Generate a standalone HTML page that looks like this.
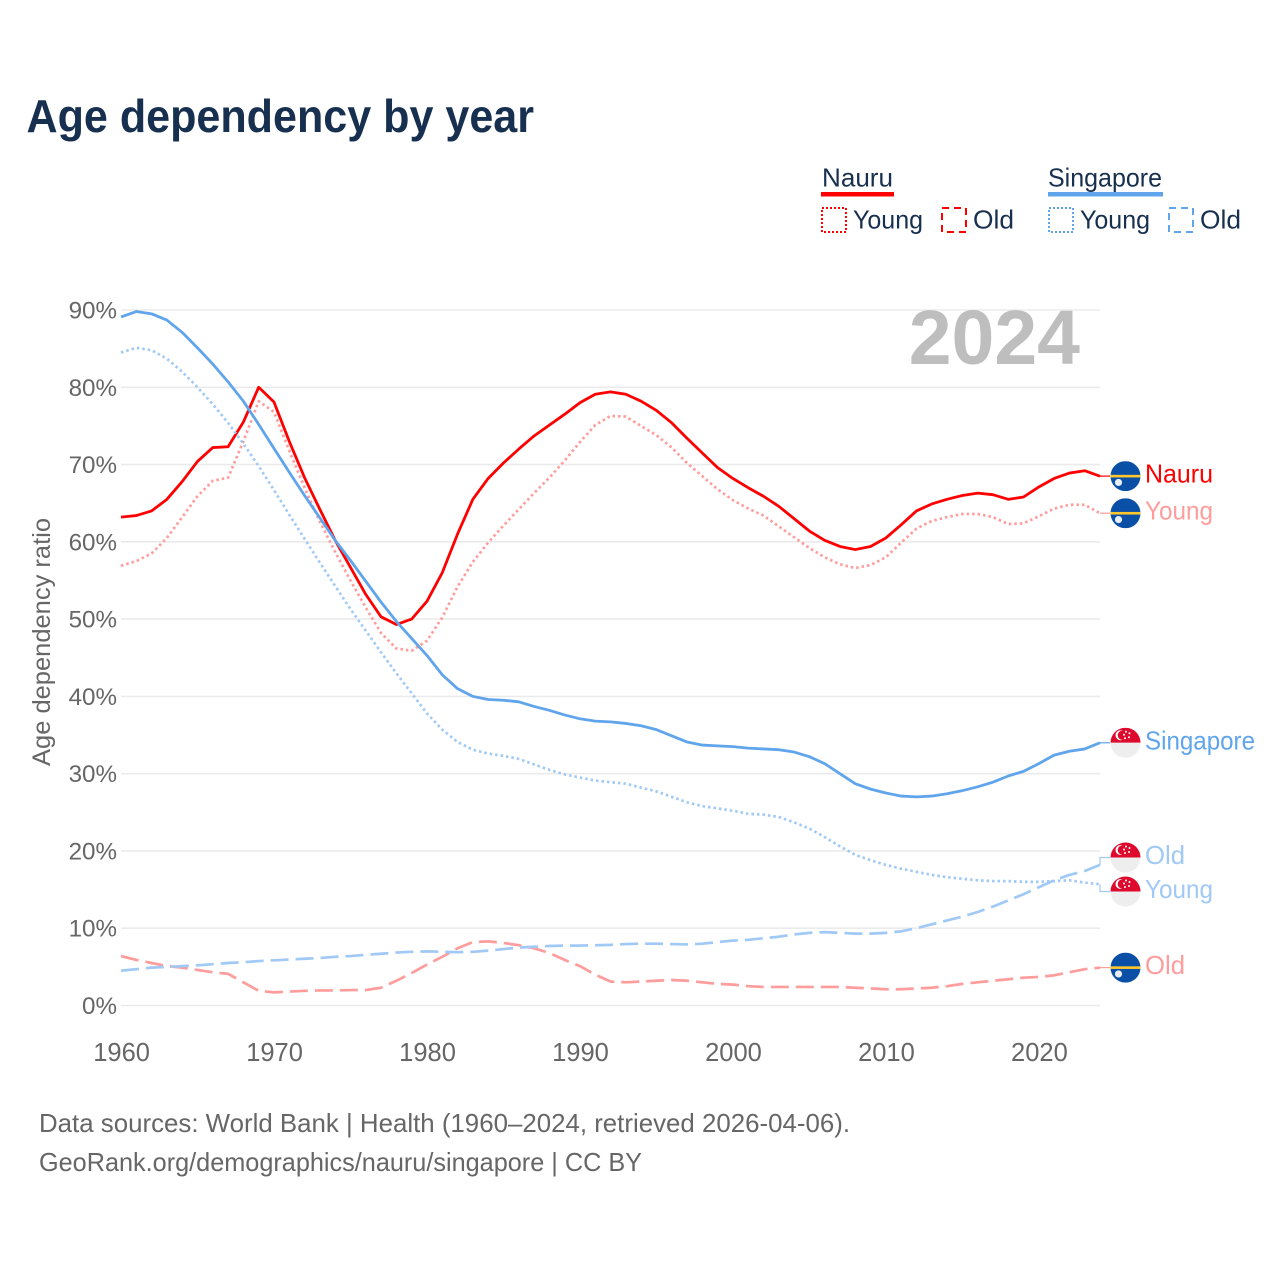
<!DOCTYPE html>
<html lang="en">
<head>
<meta charset="utf-8">
<title>Age dependency by year</title>
<style>
html,body{margin:0;padding:0;background:#fff;width:1280px;height:1280px;overflow:hidden}
svg{display:block}
text{font-family:"Liberation Sans",sans-serif}
</style>
</head>
<body>
<svg id="chart" xmlns="http://www.w3.org/2000/svg" width="1280" height="1280" viewBox="0 0 1280 1280">
  <defs>
    <clipPath id="flag-clip"><circle cx="0" cy="0" r="15"/></clipPath>
  </defs>
  <rect x="0" y="0" width="1280" height="1280" fill="#fff"/>
  <text x="26.5" y="132" font-size="46" font-weight="700" fill="#17304f" textLength="507.5" lengthAdjust="spacingAndGlyphs">Age dependency by year</text>

  <g font-size="26" fill="#17304f">
    <g>
      <text x="822" y="186.5" textLength="71" lengthAdjust="spacingAndGlyphs">Nauru</text>
      <rect x="821" y="192" width="73" height="4.5" fill="#ff0000"/>
      <rect x="822" y="208" width="24" height="24" fill="none" stroke="#ff0000" stroke-width="2" stroke-dasharray="2 2"/>
      <text x="853" y="228.5" textLength="70" lengthAdjust="spacingAndGlyphs">Young</text>
      <rect x="942" y="208" width="24" height="24" fill="none" stroke="#ff0000" stroke-width="2" stroke-dasharray="7 5"/>
      <text x="973" y="228.5" textLength="41" lengthAdjust="spacingAndGlyphs">Old</text>
    </g>
    <g>
      <text x="1048" y="186.5" textLength="114" lengthAdjust="spacingAndGlyphs">Singapore</text>
      <rect x="1048" y="192" width="115" height="4.5" fill="#60a5ec"/>
      <rect x="1049" y="208" width="24" height="24" fill="none" stroke="#60a5ec" stroke-width="2" stroke-dasharray="2 2"/>
      <text x="1080" y="228.5" textLength="70" lengthAdjust="spacingAndGlyphs">Young</text>
      <rect x="1169" y="208" width="24" height="24" fill="none" stroke="#60a5ec" stroke-width="2" stroke-dasharray="7 5"/>
      <text x="1200" y="228.5" textLength="41" lengthAdjust="spacingAndGlyphs">Old</text>
    </g>
  </g>

  <g id="grid"></g>
  <text x="1080" y="364" text-anchor="end" font-size="77" font-weight="700" fill="#bebebe">2024</text>
  <g id="y-axis"></g>
  <g id="x-axis"></g>
  <text transform="translate(50,642) rotate(-90)" text-anchor="middle" font-size="25" fill="#666" textLength="248" lengthAdjust="spacingAndGlyphs">Age dependency ratio</text>
  <g id="series"></g>
  <g id="labels"></g>

  <text x="39" y="1132" font-size="26" fill="#666" textLength="811" lengthAdjust="spacingAndGlyphs">Data sources: World Bank | Health (1960–2024, retrieved 2026-04-06).</text>
  <text x="39" y="1171" font-size="26" fill="#666" textLength="603" lengthAdjust="spacingAndGlyphs">GeoRank.org/demographics/nauru/singapore | CC BY</text>
</svg>
<script>
const startYear = 1960;
const endYear = 2024;
const xTickYears = [1960, 1970, 1980, 1990, 2000, 2010, 2020];
const yTickValues = [0, 10, 20, 30, 40, 50, 60, 70, 80, 90];

const nauruTotal = [63.2,63.4,64.0,65.5,67.8,70.4,72.2,72.3,75.5,80.0,78.1,73.0,68.3,64.2,60.2,56.7,53.2,50.3,49.3,50.0,52.3,56.0,61.0,65.5,68.2,70.2,72.0,73.7,75.1,76.5,78.0,79.1,79.4,79.1,78.2,77.0,75.4,73.4,71.5,69.6,68.2,67.0,65.9,64.6,63.0,61.4,60.2,59.4,59.0,59.4,60.5,62.2,64.0,64.9,65.5,66.0,66.3,66.1,65.5,65.8,67.1,68.2,68.9,69.2,68.5];
const nauruYoung = [56.9,57.5,58.5,60.5,63.2,65.9,67.9,68.3,73.0,78.2,76.8,71.8,67.0,62.6,58.7,55.0,51.5,48.2,46.2,45.9,47.2,50.2,54.2,57.4,59.9,62.1,64.2,66.3,68.3,70.5,72.9,75.1,76.3,76.2,75.0,73.8,72.2,70.2,68.5,66.8,65.4,64.3,63.4,62.0,60.6,59.2,58.0,57.1,56.6,57.0,58.0,59.9,61.7,62.7,63.2,63.6,63.6,63.2,62.3,62.4,63.3,64.3,64.8,64.8,63.7];
const nauruOld = [6.4,5.9,5.5,5.1,4.9,4.6,4.3,4.1,3.0,1.9,1.7,1.8,1.9,1.95,1.95,2.0,2.0,2.3,3.2,4.2,5.3,6.3,7.4,8.2,8.3,8.1,7.8,7.4,6.8,5.9,5.1,4.0,3.1,3.0,3.1,3.2,3.3,3.2,3.0,2.8,2.7,2.5,2.4,2.4,2.4,2.4,2.4,2.4,2.3,2.2,2.1,2.1,2.2,2.3,2.5,2.8,3.0,3.2,3.4,3.6,3.7,3.9,4.3,4.7,4.9];
const singaporeTotal = [89.1,89.8,89.5,88.7,87.1,85.1,83.0,80.7,78.2,75.2,72.1,69.0,66.0,63.1,60.2,57.6,54.9,52.2,49.7,47.5,45.3,42.8,41.0,40.0,39.6,39.5,39.3,38.7,38.2,37.6,37.1,36.8,36.7,36.5,36.2,35.7,34.9,34.1,33.7,33.6,33.5,33.3,33.2,33.1,32.8,32.2,31.3,30.0,28.7,28.0,27.5,27.1,27.0,27.1,27.4,27.8,28.3,28.9,29.7,30.3,31.3,32.4,32.9,33.2,34.0];
const singaporeYoung = [84.5,85.1,84.8,83.7,82.0,80.0,77.8,75.4,72.7,69.8,66.7,63.5,60.4,57.3,54.3,51.3,48.5,45.7,43.0,40.4,37.8,35.7,34.1,33.1,32.6,32.3,31.9,31.2,30.5,29.9,29.5,29.1,28.9,28.7,28.2,27.7,27.0,26.3,25.8,25.5,25.2,24.8,24.7,24.4,23.7,22.9,21.8,20.6,19.5,18.8,18.2,17.7,17.3,16.9,16.6,16.4,16.2,16.1,16.1,16.0,16.0,16.1,16.2,15.9,15.7];
const singaporeOld = [4.5,4.7,4.9,5.0,5.1,5.2,5.35,5.5,5.6,5.75,5.85,5.95,6.05,6.15,6.3,6.4,6.55,6.7,6.85,6.95,7.0,6.95,6.9,6.95,7.1,7.3,7.5,7.6,7.7,7.75,7.75,7.8,7.85,7.95,8.0,8.0,7.95,7.9,8.0,8.2,8.4,8.5,8.7,8.9,9.2,9.4,9.5,9.4,9.3,9.3,9.4,9.6,10.0,10.5,11.0,11.5,12.1,12.8,13.6,14.4,15.3,16.2,16.9,17.4,18.2];

const SVG_NS = 'http://www.w3.org/2000/svg';
const plotLeft = 121, plotRight = 1100, yZero = 1005.5, yNinety = 310;
function xScale(year) {
  return plotLeft + (year - startYear) * (plotRight - plotLeft) / (endYear - startYear);
}
function yScale(value) {
  return yZero - value * (yZero - yNinety) / 90;
}
function make(tag, parent, attrs) {
  const node = document.createElementNS(SVG_NS, tag);
  for (const key in attrs) node.setAttribute(key, attrs[key]);
  parent.appendChild(node);
  return node;
}

const gridGroup = document.getElementById('grid');
const yAxisGroup = document.getElementById('y-axis');
yTickValues.forEach(function (value) {
  const line = make('line', gridGroup, { x1: plotLeft, x2: plotRight, y1: yScale(value), y2: yScale(value), stroke: '#ebebeb', 'stroke-width': 1.6 });
  
  
  const label = make('text', yAxisGroup, { x: 117, y: yScale(value) + 8.5, 'text-anchor': 'end', 'font-size': 24.2, fill: '#666' });
  
  
  label.textContent = value + '%';
});

const xAxisGroup = document.getElementById('x-axis');
xTickYears.forEach(function (year) {
  const label = make('text', xAxisGroup, { x: xScale(year) + 0.6, y: 1061, 'text-anchor': 'middle', 'font-size': 25.5, fill: '#666' });
  
  
  label.textContent = String(year);
});

const RED = '#ff0000', RED_SOFT = '#ff9c9c', BLUE = '#60a5ec', BLUE_SOFT = '#a0c9f5';
const seriesList = [
  { key: 'nauru-old', values: nauruOld, color: RED_SOFT, dash: '18 7', width: 2.7, label: 'Old', country: 'nauru', labelWidth: 40 },
  { key: 'nauru-young', values: nauruYoung, color: RED_SOFT, dash: '2.5 3', width: 2.7, label: 'Young', country: 'nauru', labelWidth: 68 },
  { key: 'nauru-total', values: nauruTotal, color: RED, dash: '', width: 2.8, label: 'Nauru', country: 'nauru', labelWidth: 68 },
  { key: 'singapore-old', values: singaporeOld, color: BLUE_SOFT, dash: '18 7', width: 2.7, label: 'Old', country: 'singapore', labelWidth: 40 },
  { key: 'singapore-young', values: singaporeYoung, color: BLUE_SOFT, dash: '2.5 3', width: 2.7, label: 'Young', country: 'singapore', labelWidth: 68 },
  { key: 'singapore-total', values: singaporeTotal, color: BLUE, dash: '', width: 2.8, label: 'Singapore', country: 'singapore', labelWidth: 110 }
];

const seriesGroup = document.getElementById('series');
seriesList.forEach(function (s) {
  const d = s.values.map(function (v, i) {
    return (i ? 'L' : 'M') + xScale(startYear + i).toFixed(2) + ' ' + yScale(v).toFixed(2);
  }).join(' ');
  const attrs = { d: d, fill: 'none', stroke: s.color, 'stroke-width': s.width, 'stroke-linejoin': 'round' };
  if (s.dash) attrs['stroke-dasharray'] = s.dash;
  const path = make('path', seriesGroup, attrs);
  
  
});

/* End labels: start at the final value, then push overlapping neighbours apart */
const minGap = 34;
const placed = seriesList.map(function (s) {
  const y = yScale(s.values[s.values.length - 1]);
  return { s: s, y: y, labelY: y };
}).sort(function (a, b) { return a.y - b.y; });
for (let pass = 0; pass < 20; pass++) {
  for (let i = 1; i < placed.length; i++) {
    const overlap = minGap - (placed[i].labelY - placed[i - 1].labelY);
    if (overlap > 0) {
      placed[i - 1].labelY -= overlap / 2;
      placed[i].labelY += overlap / 2;
    }
  }
}

function drawFlag(parent, country, cy) {
  const flag = make('g', parent, { transform: 'translate(1125.5,' + cy + ')', 'clip-path': 'url(#flag-clip)' });
  
  
  if (country === 'nauru') {
    make('rect', flag, { x: -15, y: -15, width: 30, height: 30, fill: '#0a4fa6' });
    make('rect', flag, { x: -15, y: -1.3, width: 30, height: 2.6, fill: '#ffc72c' });
    make('circle', flag, { cx: -7, cy: 6.3, r: 3.6, fill: '#e8eef6' });
  } else {
    make('rect', flag, { x: -15, y: -15, width: 30, height: 15, fill: '#de0a2e' });
    make('rect', flag, { x: -15, y: 0, width: 30, height: 15, fill: '#eeeeee' });
    make('circle', flag, { cx: -5, cy: -7.5, r: 5, fill: '#fff' });
    make('circle', flag, { cx: -3.2, cy: -7.5, r: 4.6, fill: '#de0a2e' });
    [[0.5, -11], [4, -9.5], [3.5, -5.5], [-0.5, -4.5], [-1.5, -8]].forEach(function (p) {
      make('circle', flag, { cx: p[0], cy: p[1], r: 1, fill: '#fff' });
    });
  }
}

const labelGroup = document.getElementById('labels');
placed.forEach(function (p) {
  const s = p.s;
  const connector = make('path', labelGroup, {
    d: 'M1100 ' + p.y.toFixed(1) + ' L1100 ' + p.labelY.toFixed(1) + ' L1110 ' + p.labelY.toFixed(1),
    fill: 'none', stroke: s.color, 'stroke-width': 1.2
  });
  
  
  drawFlag(labelGroup, s.country, p.labelY);
  const text = make('text', labelGroup, {
    x: 1145, y: p.labelY + 6.5, 'font-size': 26, fill: s.color,
    textLength: s.labelWidth, lengthAdjust: 'spacingAndGlyphs'
  });
  
  
  text.textContent = s.label;
});
</script>
</body>
</html>
